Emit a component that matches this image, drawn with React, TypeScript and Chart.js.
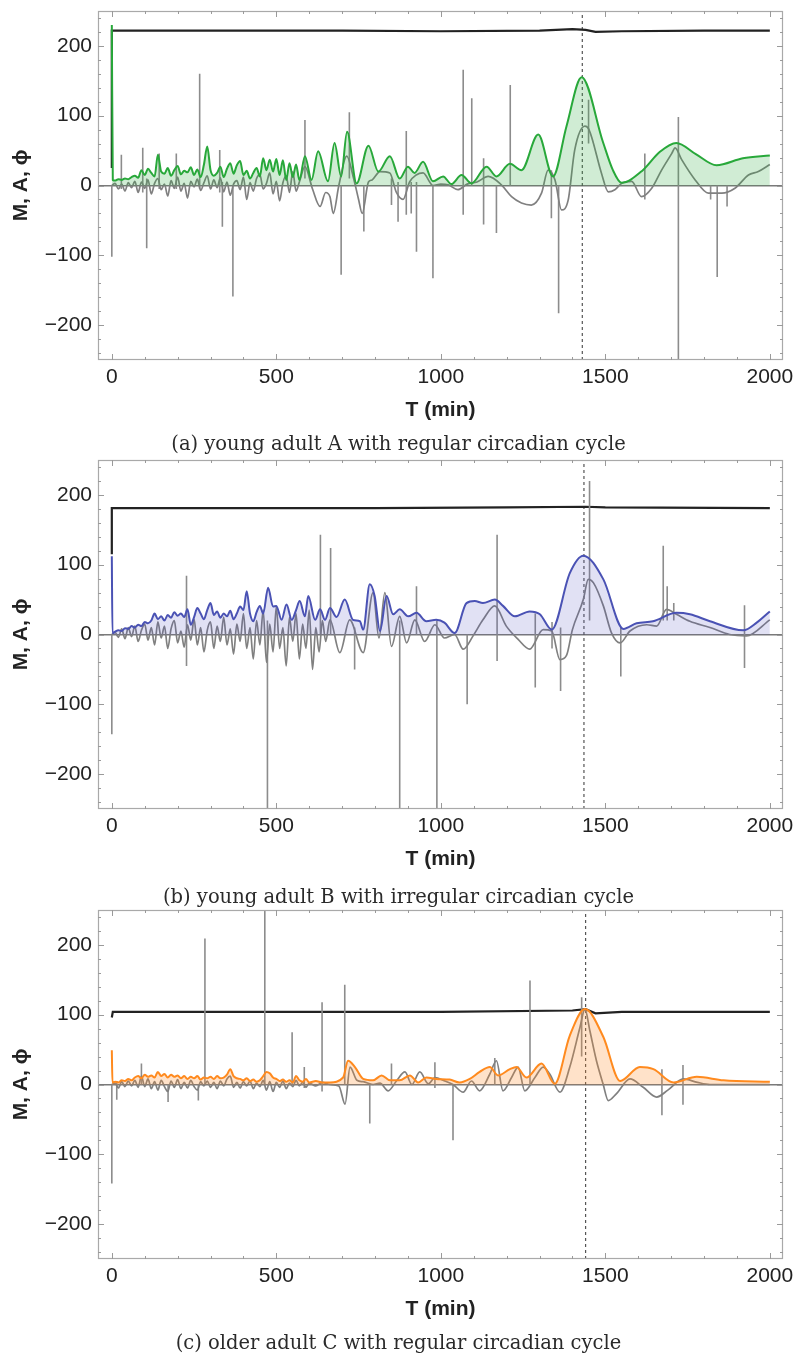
import React, { useEffect, useRef } from 'react';
import { Chart, registerables } from 'chart.js';
Chart.register(...registerables);

// ---------- shared axis data ----------
const xTickValues = [0, 500, 1000, 1500, 2000];
const yTickValues = [-200, -100, 0, 100, 200];
const xTitle = 'T (min)';
const yTitle = 'M, A, \u03D5';

// ---------- panel (a) young adult A ----------
const aEnvT = [0, 3, 10, 20, 30, 40, 50, 60, 70, 80, 90, 100, 110, 120, 130, 140, 150, 160, 170, 180, 190, 200, 210, 220, 230, 240, 250, 260, 270, 280, 290, 300, 310, 320, 330, 340, 350, 360, 370, 380, 390, 400, 410, 420, 430, 440, 450, 460, 470, 480, 490, 500, 510, 520, 530, 540, 550, 560, 570,
  587, 607, 627, 657, 677, 697, 715, 744, 780, 810, 845, 875, 900, 920, 946, 976, 1007, 1032, 1063, 1093, 1139, 1169, 1210, 1245, 1296, 1341, 1382, 1428, 1493, 1523, 1549, 1614, 1665, 1716, 1775, 1838, 1918, 2000];
const aEnvV = [230, 8, 7, 9, 8, 10, 9, 12, 14, 11, 22, 15, 24, 18, 13, 44, 20, 17, 25, 14, 22, 28, 16, 21, 19, 26, 15, 23, 12, 30, 56, 22, 14, 18, 27, 12, 24, 32, 17, 29, 35, 15, 21, 10, 18, 25, 13, 39, 22, 37, 20, 38, 15, 36, 8, 32, 12, 30, 8,
  42, 8, 49, 6, 61, 13, 77, 3, 57, 20, 42, 10, 27, 18, 34, 6, 13, 2, 15, 3, 27, 13, 31, 22, 73, 13, 85, 155, 62, 22, 4, 22, 48, 61, 45, 29, 39, 43];
const aMT = [0, 10, 20, 30, 40, 50, 60, 70, 80, 90, 100, 110, 120, 130, 140, 150, 160, 170, 180, 190, 200, 210, 220, 230, 240, 250, 260, 270, 280, 290, 300, 310, 320, 330, 340, 350, 360, 370, 380, 390, 400, 410, 420, 430, 440, 450, 460, 470, 480, 490, 500, 510, 520, 530, 540, 550, 560, 570,
  587, 610, 633, 650, 663, 673, 690, 714, 735, 750, 761, 780, 791, 815, 845, 865, 885, 905, 925, 946, 976, 1000, 1022, 1052, 1080, 1110, 1144, 1184, 1215, 1245, 1275, 1306, 1326, 1347, 1367, 1387, 1407, 1438, 1448, 1458, 1488, 1509, 1529, 1549, 1580, 1610, 1641, 1671, 1702, 1712, 1732, 1773, 1813, 1854, 1894, 1935, 1965, 2000];
const aMV = [0, 3, -5, 2, -8, 4, -3, 6, -10, 5, -4, 8, -12, 3, 10, -6, 2, -15, 7, -4, 12, -8, 3, -18, 6, -2, 9, -7, 4, 14, -5, 8, -3, 11, -9, 5, -14, 2, 7, -6, 12, -20, 4, -8, 10, 16, -5, 3, 18, -12, 6, -22, 4, 14, -10, 20, -8, 5,
  27, -5, -30, -10, -16, -40, 0, 42, 10, -20, -40, 5, 8, 20, 18, -10, -20, 5, 15, 18, 0, 2, 1, -6, 2, 5, 13, 1, -16, -25, -28, -11, 22, 8, -35, -21, 51, 85, 82, 70, 18, -9, -6, 3, 6, -16, -4, 22, 46, 54, 37, 8, -11, -11, -4, 15, 20, 30];
const aSpkT = [0, 29, 94, 106, 144, 196, 267, 328, 336, 368, 587, 697, 722, 766, 850, 870, 895, 910, 926, 976, 1068, 1094, 1130, 1169, 1211, 1336, 1358, 1449, 1620, 1722, 1820, 1840, 1870];
const aSpkHi = [0, 44, 54, 10, 46, 46, 160, 51, 5, 0, 94, 0, 105, 0, 10, 5, 78, 5, 5, 0, 166, 125, 39, 0, 144, 22, 0, 123, 46, 98, 0, 0, 0];
const aSpkLo = [-102, -5, -10, -90, -5, -5, -5, -10, -59, -159, 10, -128, 10, -66, -28, -52, -42, -40, -95, -133, -42, 0, -56, -68, 0, -47, -183, 60, -20, -250, -20, -131, -30];
const aPhiT = [0, 0, 300, 700, 1000, 1300, 1400, 1440, 1470, 1550, 1800, 2000];
const aPhiV = [25, 222, 222, 222, 221, 222, 224, 223, 220, 221, 222, 222];
const aDash = 1430;
const aCaption = '(a) young adult A with regular circadian cycle';

// ---------- panel (b) young adult B ----------
const bEnvT = [0, 2, 10, 20, 30, 40, 50, 60, 70, 80, 90, 100, 110, 120, 130, 140, 150, 160, 170, 180, 190, 200, 210, 220, 230, 240, 250, 260, 270, 280, 290, 300, 310, 320, 330, 340, 350, 360, 370, 380, 390, 400, 410, 420, 430, 440, 450, 460, 475, 490, 500, 516, 531, 547, 560, 571, 587, 597, 618, 633, 648, 663, 683,
  708, 733, 754, 764, 784, 799, 815, 835, 855, 875, 901, 926, 956, 986, 1011, 1042, 1078, 1103, 1128, 1164, 1189, 1225, 1270, 1301, 1337, 1392, 1433, 1494, 1555, 1595, 1645, 1716, 1757, 1818, 1919, 1960, 2000];
const bEnvV = [112, 2, 4, 6, 5, 9, 8, 12, 10, 14, 12, 18, 16, 20, 30, 22, 26, 20, 28, 24, 32, 27, 30, 25, 36, 14, 25, 38, 30, 22, 35, 45, 28, 33, 24, 30, 26, 34, 22, 30, 40, 35, 62, 30, 19, 32, 41, 30, 67, 40, 41, 21, 43, 21, 35, 48, 26, 55, 21, 36, 21, 38, 25,
  50, 21, 19, 7, 72, 55, 5, 55, 29, 36, 26, 31, 19, 21, 17, 2, 45, 48, 45, 50, 41, 26, 33, 29, 7, 88, 113, 79, 8, 16, 19, 31, 29, 19, 6, 17, 33];
const bMT = [0, 10, 20, 30, 40, 50, 60, 70, 80, 90, 100, 110, 120, 130, 140, 150, 160, 170, 180, 190, 200, 210, 220, 230, 240, 250, 260, 270, 280, 290, 300, 310, 320, 330, 340, 350, 360, 370, 380, 390, 400, 410, 420, 430, 440, 450, 460, 470, 480, 490, 500, 510, 520, 530, 540, 550, 560, 570, 580, 590, 600, 610, 620, 630, 640, 650,
  663, 693, 723, 764, 794, 812, 830, 850, 875, 896, 921, 951, 982, 1011, 1042, 1068, 1098, 1128, 1164, 1199, 1235, 1270, 1311, 1337, 1362, 1382, 1400, 1433, 1448, 1464, 1494, 1519, 1545, 1575, 1626, 1656, 1686, 1716, 1757, 1818, 1878, 1929, 2000];
const bMV = [0, 3, -4, 8, -6, 10, -3, 12, -10, 6, 15, -8, 10, -15, 18, -5, 12, -20, 8, 20, -12, 5, -18, 14, -8, 22, -15, 10, -25, 6, 18, -20, 12, -10, 25, -15, 8, -28, 15, -10, 30, -20, 10, -35, 20, -15, 35, -40, 15, -25, 40, -20, 10, -45, 25, -10, 30, -35, 15, -20, 35, -50, 10, -25, 20, -10,
  21, -26, 21, -26, 60, -5, 60, -17, 26, -12, 21, -10, 14, -5, 0, -21, -2, 21, 41, 12, -7, -21, 7, 5, -36, -30, 7, 50, 79, 74, 41, 2, -12, 5, 14, 12, 36, 29, 19, 10, 0, -2, 21];
const bSpkT = [0, 227, 473, 634, 665, 738, 875, 926, 988, 1080, 1171, 1287, 1338, 1364, 1452, 1547, 1676, 1688, 1708, 1923];
const bSpkHi = [0, 84, 20, 143, 124, 10, 20, 69, 20, 0, 143, 30, 18, 10, 220, 10, 127, 69, 45, 42];
const bSpkLo = [-143, -45, -250, 0, 0, -50, -250, 0, -250, -100, -38, -76, -20, -81, 20, -60, 20, 20, 20, -48];
const bPhiT = [0, 0, 300, 800, 1200, 1440, 1500, 2000];
const bPhiV = [115, 181, 181, 181, 182, 183, 182, 181];
const bDash = 1435;
const bCaption = '(b) young adult B with irregular circadian cycle';

// ---------- panel (c) older adult C ----------
const cEnvT = [0, 2, 10, 20, 30, 40, 50, 60, 70, 80, 90, 100, 110, 120, 130, 140, 150, 160, 170, 180, 190, 200, 210, 220, 230, 240, 250, 260, 270, 280, 290, 300, 310, 320, 330, 340, 350, 360, 370, 380, 390, 400, 410, 420, 430, 440, 450, 460, 470, 480, 490, 500, 510, 520, 530, 540, 550, 560, 570, 580, 590, 600, 620, 640,
  663, 703, 718, 739, 764, 794, 820, 845, 875, 906, 931, 956, 986, 1027, 1057, 1088, 1118, 1149, 1174, 1210, 1230, 1260, 1306, 1346, 1392, 1438, 1494, 1545, 1605, 1646, 1707, 1778, 1859, 2000];
const cEnvV = [49, 3, 4, 3, 6, 5, 8, 6, 10, 12, 9, 14, 11, 13, 10, 18, 12, 15, 10, 14, 11, 13, 9, 12, 8, 11, 9, 12, 7, 10, 9, 11, 8, 12, 9, 10, 14, 22, 12, 9, 8, 6, 9, 5, 7, 4, 6, 12, 18, 16, 10, 8, 5, 7, 4, 6, 3, 12, 6, 4, 8, 3, 5, 3,
  3, 10, 34, 25, 8, 6, 13, 6, 6, 13, 3, 10, 8, 7, 3, 8, 18, 25, 13, 22, 25, 10, 30, 1, 70, 108, 68, 5, 25, 22, 3, 11, 6, 4];
const cMT = [0, 10, 20, 30, 40, 50, 60, 70, 80, 90, 100, 110, 120, 130, 140, 150, 160, 170, 180, 190, 200, 210, 220, 230, 240, 250, 260, 270, 280, 290, 300, 310, 320, 330, 340, 350, 360, 370, 380, 390, 400, 410, 420, 430, 440, 450, 460, 470, 480, 490, 500, 510, 520, 530, 540, 550, 560, 570, 580, 590, 600, 620, 640,
  663, 690, 709, 724, 745, 764, 794, 815, 840, 865, 891, 912, 936, 962, 982, 1012, 1037, 1068, 1093, 1118, 1149, 1169, 1189, 1215, 1235, 1255, 1286, 1311, 1331, 1362, 1392, 1423, 1438, 1453, 1473, 1493, 1509, 1534, 1575, 1615, 1656, 1690, 1737, 1780, 1818, 2000];
const cMV = [0, 2, -5, 4, -3, 5, -2, 6, -4, 12, -3, 8, -6, 4, -8, 6, -3, -10, 5, -4, 7, -6, 3, -5, 6, -3, -8, 4, -2, 5, -4, 3, -6, 5, -2, 8, 12, -4, 3, -5, 4, -2, 5, -6, 2, -3, 6, -8, 4, -10, 3, -4, 5, -6, 2, -3, 6, -2, 3, -4, 2, -2, 3,
  0, -2, -28, 25, 6, 4, 0, 2, -9, 5, 18, 0, 18, 1, 10, 5, 0, -11, 5, -9, 15, 34, -9, 10, 25, -9, 10, 25, 15, -11, 25, 82, 108, 77, 34, 1, -23, -13, 8, -4, -18, -8, 8, 3, 0, 0];
const cSpkT = [0, 15, 90, 171, 263, 283, 465, 548, 585, 639, 708, 784, 850, 982, 1037, 1164, 1271, 1428, 1672, 1736];
const cSpkHi = [0, 5, 30, 0, 0, 209, 250, 75, 25, 118, 143, 0, 30, 32, 0, 38, 149, 125, 22, 28];
const cSpkLo = [-142, -22, 0, -25, -23, 0, 0, 0, -5, -10, 0, -56, 0, -5, -80, 0, 0, 40, -44, -29];
const cPhiT = [0, 3, 500, 1000, 1400, 1440, 1470, 1550, 2000];
const cPhiV = [96, 104, 104, 104, 106, 108, 102, 104, 104];
const cDash = 1440;
const cCaption = '(c) older adult C with regular circadian cycle';

// ---------- helpers ----------
type Pt = { x: number; y: number | null };
const pts = (t: number[], v: number[]): Pt[] => t.map((x, i) => ({ x, y: v[i] }));
const spikes = (t: number[], hi: number[], lo: number[]): Pt[] => {
  const out: Pt[] = [];
  t.forEach((x, i) => {
    out.push({ x, y: hi[i] }, { x, y: lo[i] }, { x, y: null });
  });
  return out;
};

const FONT = '"Liberation Sans", Arial, Helvetica, sans-serif';

const framePlugin = {
  id: 'mmaFrame',
  afterDatasetsDraw(chart: any) {
    const { ctx, chartArea: a, scales } = chart;
    const xs = scales.x;
    const ys = scales.y;
    ctx.save();
    ctx.strokeStyle = '#a9a9a9';
    ctx.lineWidth = 1.2;
    ctx.strokeRect(a.left + 0.5, a.top + 0.5, a.right - a.left - 1, a.bottom - a.top - 1);
    ctx.strokeStyle = '#9a9a9a';
    ctx.lineWidth = 1;
    ctx.beginPath();
    for (let v = 0; v <= 2000; v += 100) {
      const px = Math.round(xs.getPixelForValue(v)) + 0.5;
      const L = v % 500 === 0 ? 6 : 3;
      ctx.moveTo(px, a.bottom); ctx.lineTo(px, a.bottom - L);
      ctx.moveTo(px, a.top); ctx.lineTo(px, a.top + L);
    }
    for (let v = -240; v <= 240; v += 20) {
      const py = Math.round(ys.getPixelForValue(v)) + 0.5;
      const L = v % 100 === 0 ? 6 : 3;
      ctx.moveTo(a.left, py); ctx.lineTo(a.left + L, py);
      ctx.moveTo(a.right, py); ctx.lineTo(a.right - L, py);
    }
    ctx.stroke();
    ctx.restore();
  },
};

type PanelCfg = {
  top: number;
  envT: number[]; envV: number[];
  mT: number[]; mV: number[];
  spkT: number[]; spkHi: number[]; spkLo: number[];
  phiT: number[]; phiV: number[];
  dash: number;
  line: string; fill: string;
};

const panels: PanelCfg[] = [
  { top: 0, envT: aEnvT, envV: aEnvV, mT: aMT, mV: aMV, spkT: aSpkT, spkHi: aSpkHi, spkLo: aSpkLo, phiT: aPhiT, phiV: aPhiV, dash: aDash, line: '#28a83a', fill: 'rgba(40,170,60,0.22)' },
  { top: 449, envT: bEnvT, envV: bEnvV, mT: bMT, mV: bMV, spkT: bSpkT, spkHi: bSpkHi, spkLo: bSpkLo, phiT: bPhiT, phiV: bPhiV, dash: bDash, line: '#4a52b4', fill: 'rgba(80,80,190,0.17)' },
  { top: 899, envT: cEnvT, envV: cEnvV, mT: cMT, mV: cMV, spkT: cSpkT, spkHi: cSpkHi, spkLo: cSpkLo, phiT: cPhiT, phiV: cPhiV, dash: cDash, line: '#ff8a1e', fill: 'rgba(255,140,40,0.25)' },
];

const captions = [
  { text: aCaption, center: 444 },
  { text: bCaption, center: 897 },
  { text: cCaption, center: 1343 },
];

function Panel({ cfg }: { cfg: PanelCfg }) {
  const ref = useRef<HTMLCanvasElement>(null);
  useEffect(() => {
    const chart = new Chart(ref.current as HTMLCanvasElement, {
      type: 'line',
      data: {
        datasets: [
          {
            data: pts(cfg.envT, cfg.envV) as any,
            borderColor: cfg.line, backgroundColor: cfg.fill, borderWidth: 2,
            fill: 'origin', cubicInterpolationMode: 'monotone', pointRadius: 0,
          },
          {
            data: pts(cfg.mT, cfg.mV) as any,
            borderColor: '#808080', borderWidth: 1.7, fill: false,
            cubicInterpolationMode: 'monotone', pointRadius: 0,
          },
          {
            data: spikes(cfg.spkT, cfg.spkHi, cfg.spkLo) as any,
            borderColor: '#8c8c8c', borderWidth: 1.6, fill: false, spanGaps: false,
            tension: 0, pointRadius: 0,
          },
          {
            data: pts(cfg.phiT, cfg.phiV) as any,
            borderColor: '#222222', borderWidth: 2.2, fill: false, tension: 0, pointRadius: 0,
          },
          {
            data: [{ x: cfg.dash, y: -250 }, { x: cfg.dash, y: 250 }] as any,
            borderColor: '#555555', borderWidth: 1.2, borderDash: [3, 3], fill: false,
            tension: 0, pointRadius: 0,
          },
        ],
      },
      options: {
        animation: false,
        responsive: false,
        devicePixelRatio: 1,
        layout: { padding: { top: 11, right: 14, left: 0, bottom: 0 } },
        plugins: { legend: { display: false }, tooltip: { enabled: false } },
        elements: { point: { radius: 0 } },
        scales: {
          x: {
            type: 'linear', min: -42, max: 2040,
            afterBuildTicks: (s: any) => { s.ticks = xTickValues.map((v) => ({ value: v })); },
            afterFit: (s: any) => { s.height = 90; s.paddingLeft = 0; s.paddingRight = 0; },
            grid: { display: false, drawTicks: false },
            border: { display: false },
            ticks: {
              font: { family: FONT, size: 21 }, color: '#222', padding: 5,
              maxRotation: 0, autoSkip: false,
              callback: (v: any) => String(v),
            },
            title: {
              display: true, text: xTitle, color: '#222',
              font: { family: FONT, size: 21, weight: 'bold' },
              padding: { top: 0, bottom: 27 },
            },
          },
          y: {
            type: 'linear', min: -250, max: 250,
            afterBuildTicks: (s: any) => { s.ticks = yTickValues.map((v) => ({ value: v })); },
            afterFit: (s: any) => { s.width = 98; s.paddingTop = 0; s.paddingBottom = 0; },
            grid: {
              color: (c: any) => (c.tick && c.tick.value === 0 ? '#7a7a7a' : 'rgba(0,0,0,0)'),
              lineWidth: 1.5, drawTicks: false,
            },
            border: { display: false },
            ticks: {
              font: { family: FONT, size: 21 }, color: '#222', padding: 6,
              callback: (v: any) => String(v).replace('-', '\u2212'),
            },
            title: {
              display: true, text: yTitle, color: '#222',
              font: { family: FONT, size: 21, weight: 'bold' },
              padding: { top: 9, bottom: 0 },
            },
          },
        },
      } as any,
      plugins: [framePlugin],
    });
    return () => chart.destroy();
  }, [cfg]);
  return (
    <canvas
      ref={ref}
      width={797}
      height={450}
      style={{ position: 'absolute', left: 0, top: cfg.top, width: 797, height: 450 }}
    />
  );
}

export default function App() {
  return (
    <div style={{ position: 'absolute', left: 0, top: 0, width: 797, height: 1358, background: '#fff', overflow: 'hidden' }}>
      {panels.map((p, i) => (
        <Panel key={i} cfg={p} />
      ))}
      {captions.map((c, i) => (
        <div
          key={'c' + i}
          style={{
            position: 'absolute', left: 0, width: 797, top: c.center - 12, height: 24,
            lineHeight: '24px', textAlign: 'center', color: '#2a2a2a',
            fontFamily: '"DejaVu Serif", "Liberation Serif", serif', fontSize: 19.5,
          }}
        >
          {c.text}
        </div>
      ))}
    </div>
  );
}
